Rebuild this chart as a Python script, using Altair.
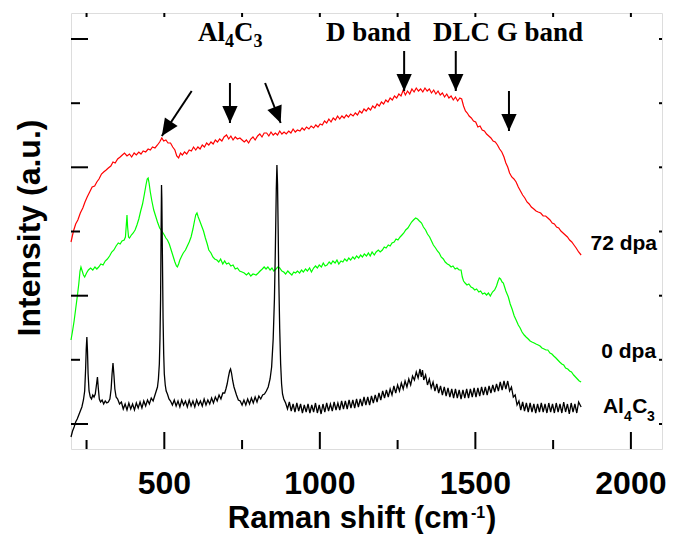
import altair as alt
import pandas as pd

# ---------------- data (Raman shift in cm^-1, intensity in a.u. with offsets) ----------------
red_72dpa = [
    (200,207),(208,218),(215,225),(222,229),(230,236),(238,241),(245,247),(252,252),(260,257),(268,262),
    (276,263),(283,267),(290,270),(298,275),(305,277),(313,279),(320,281),(328,283),(335,287),(342,286),
    (350,290),(358,292),(365,294),(372,296),(380,293),(388,295),(395,292),(403,296),(410,294),(418,297),
    (425,295),(432,298),(440,297),(448,300),(455,299),(462,302),(470,301),(478,304),(485,307),(492,311),
    (498,308),(505,309),(512,306),(520,306),(527,302),(534,299),(540,293),(546,291),(552,296),(558,294),
    (565,297),(572,295),(580,299),(587,298),(594,302),(601,299),(608,302),(615,300),(622,304),(629,302),
    (636,306),(643,304),(650,307),(657,305),(664,309),(671,307),(678,310),(685,308),(692,312),(700,314),
    (707,310),(714,313),(721,309),(728,312),(735,310),(743,311),(750,309),(757,307),(764,309),(771,306),
    (778,310),(785,312),(792,309),(800,313),(807,315),(814,312),(821,316),(829,316),(836,313),(843,317),
    (850,314),(857,316),(864,314),(871,318),(878,315),(885,317),(892,315),(900,318),(907,316),(914,320),
    (921,317),(928,319),(936,318),(943,321),(950,319),(957,322),(965,320),(972,323),(980,321),(987,324),
    (994,322),(1001,325),(1008,324),(1015,328),(1022,326),(1029,330),(1036,327),(1043,331),(1050,329),
    (1057,333),(1064,330),(1071,333),(1078,331),(1085,334),(1092,332),(1099,335),(1107,333),(1114,336),
    (1121,334),(1128,338),(1135,336),(1142,340),(1149,338),(1156,341),(1163,339),(1170,343),(1177,341),
    (1184,345),(1191,343),(1198,347),(1205,345),(1212,349),(1219,347),(1226,351),(1233,349),(1240,353),
    (1247,351),(1254,355),(1261,353),(1268,359),(1275,354),(1282,358),(1289,355),(1296,360),(1303,357),
    (1310,361),(1317,358),(1324,360),(1331,357),(1338,361),(1345,358),(1352,360),(1359,356),(1366,359),
    (1373,355),(1380,358),(1387,354),(1394,356),(1401,352),(1408,355),(1415,351),(1422,353),(1429,349),
    (1436,352),(1443,348),(1450,351),(1456,350),(1462,343),(1468,338),(1474,336),(1480,333),(1487,331),
    (1494,328),(1501,327),(1508,322),(1515,323),(1522,319),(1529,318),(1536,315),(1543,313),(1550,311),
    (1557,308),(1564,307),(1571,304),(1578,300),(1585,297),(1592,292),(1598,286),(1604,282),(1610,276),
    (1617,272),(1624,270),(1631,267),(1638,262),(1645,258),(1652,254),(1659,251),(1666,247),(1673,245),
    (1680,242),(1688,240),(1695,238),(1702,237),(1710,236),(1718,233),(1726,233),(1733,231),(1740,229),
    (1747,226),(1754,225),(1761,222),(1768,221),(1775,218),(1782,216),(1789,214),(1796,212),(1803,209),
    (1810,207),(1817,204),(1824,201),(1832,197),(1840,194),
]

green_0dpa = [
    (200,109),(205,118),(210,128),(215,140),(220,152),(225,165),(229,178),(232,182),(236,178),(240,174),
    (244,172),(250,176),(256,179),(263,181),(270,179),(277,182),(283,180),(289,182),(296,185),(303,184),
    (310,188),(317,190),(324,193),(331,197),(338,199),(345,203),(352,206),(358,205),(364,208),(371,209),
    (375,212),(378,225),(380,234),(382,222),(385,212),(388,211),(394,214),(400,216),(406,219),(412,224),
    (418,230),(424,238),(430,245),(436,255),(441,264),(445,270),(448,271),(451,266),(455,257),(460,248),
    (466,239),(472,233),(478,227),(485,221),(492,218),(500,214),(505,211),(510,209),(516,205),(522,199),
    (528,193),(534,187),(539,183),(542,182),(546,185),(550,189),(556,193),(561,196),(568,199),(574,203),
    (580,207),(586,212),(592,220),(597,228),(601,234),(605,236),(609,232),(614,228),(620,223),(626,218),
    (632,211),(638,205),(643,199),(650,196),(656,192),(662,190),(669,189),(675,187),(681,190),(688,185),
    (694,188),(700,185),(707,186),(714,183),(721,184),(728,180),(735,181),(742,178),(750,177),(757,176),
    (764,174),(771,176),(778,173),(785,175),(795,174),(802,176),(808,178),(815,180),(821,182),(827,180),
    (833,182),(840,179),(846,181),(852,178),(859,180),(865,182),(871,181),(878,178),(884,177),(890,175),
    (897,178),(903,176),(910,174),(916,177),(922,176),(928,178),(935,176),(941,179),(947,177),(954,180),
    (960,178),(967,181),(973,177),(980,181),(986,183),(992,181),(998,184),(1005,182),(1011,186),(1017,183),
    (1023,184),(1030,187),(1036,185),(1042,188),(1049,186),(1055,189),(1061,185),(1068,188),(1074,187),
    (1080,190),(1087,188),(1093,191),(1099,189),(1106,192),(1112,190),(1118,193),(1125,191),(1131,194),
    (1137,192),(1143,195),(1150,193),(1156,196),(1162,193),(1168,197),(1175,194),(1181,197),(1188,199),
    (1194,197),(1201,199),(1207,202),(1213,201),(1220,204),(1226,203),(1232,206),(1239,207),(1245,210),
    (1251,209),(1258,212),(1264,214),(1270,216),(1276,219),(1283,221),(1289,224),(1295,227),(1301,229),
    (1308,231),(1314,230),(1320,228),(1327,226),(1333,222),(1340,219),(1346,215),(1353,212),(1359,208),
    (1365,204),(1372,201),(1378,198),(1384,196),(1390,192),(1397,190),(1403,187),(1410,185),(1416,184),
    (1422,182),(1428,183),(1435,180),(1441,181),(1448,179),(1454,179),(1458,172),(1462,168),(1467,166),
    (1473,164),(1479,165),(1486,162),(1492,161),(1498,159),(1504,160),(1511,157),(1517,158),(1523,155),
    (1530,156),(1536,154),(1542,156),(1548,153),(1555,157),(1562,159),(1568,163),(1573,168),(1577,171),
    (1581,170),(1586,167),(1590,166),(1594,162),(1598,158),(1602,155),(1606,152),(1612,145),(1618,140),
    (1625,133),(1631,129),(1638,124),(1644,121),(1650,117),(1657,114),(1663,112),(1670,110),(1676,108),
    (1682,107),(1689,106),(1695,105),(1702,104),(1708,103),(1714,101),(1721,100),(1727,99),(1733,99),
    (1740,96),(1746,95),(1752,93),(1759,91),(1765,89),(1771,87),(1778,85),(1784,84),(1790,81),(1797,80),
    (1803,78),(1809,77),(1816,74),(1822,72),(1828,70),(1834,68),(1840,67),
]

black_al4c3 = [
    (200,12),(205,18),(210,22),(215,27),(220,30),(225,34),(230,38),(235,42),(240,49),(244,58),(247,80),
    (249,100),(251,112),(253,98),(255,75),(258,58),(262,52),(266,50),(270,54),(274,52),(278,55),(281,62),
    (285,72),(288,60),(291,50),(295,47),(300,49),(305,45),(310,48),(315,46),(320,47),(325,50),(329,60),
    (332,75),(335,86),(338,74),(341,60),(345,52),(350,50),(356,45),(362,47),(368,40),(374,45),(380,39),
    (386,46),(392,40),(398,45),(404,39),(410,46),(416,41),(422,47),(428,41),(434,48),(440,43),(446,49),
    (452,45),(458,51),(464,48),(470,54),(474,58),(478,62),(481,70),(484,85),(486,110),(488,150),(490,230),
    (491,264),(492,250),(494,190),(496,130),(498,95),(500,75),(503,64),(506,58),(510,55),(515,50),(520,48),
    (526,44),(532,49),(538,43),(544,48),(550,42),(556,49),(562,44),(568,48),(574,42),(580,49),(586,43),
    (592,48),(598,42),(604,49),(610,44),(616,48),(622,43),(628,50),(634,44),(640,49),(646,45),(652,51),
    (658,46),(664,52),(670,48),(676,54),(682,50),(688,56),(694,56),(698,60),(702,65),(706,72),(710,78),
    (713,80),(716,76),(720,68),(724,62),(728,58),(732,54),(738,49),(744,48),(750,44),(756,49),(762,44),
    (768,50),(774,45),(780,51),(786,46),(792,52),(798,47),(804,53),(810,50),(816,54),(822,55),(828,58),
    (834,62),(840,70),(845,82),(850,110),(854,150),(857,200),(860,260),(862,284),(864,265),(866,220),
    (868,170),(871,120),(874,85),(877,65),(880,55),(884,50),(890,46),(896,40),(902,47),(908,38),(914,45),
    (920,37),(926,46),(932,38),(938,45),(944,36),(950,44),(956,37),(962,45),(968,36),(974,44),(980,37),
    (986,46),(992,36),(998,44),(1004,35),(1010,45),(1016,37),(1022,46),(1028,38),(1034,45),(1040,38),
    (1046,47),(1052,39),(1058,46),(1064,39),(1070,48),(1076,40),(1082,48),(1088,40),(1094,49),(1100,41),
    (1106,49),(1112,41),(1118,50),(1124,42),(1130,50),(1136,43),(1142,52),(1148,44),(1154,52),(1160,44),
    (1166,53),(1172,46),(1178,54),(1184,47),(1190,56),(1196,49),(1202,58),(1208,51),(1214,59),(1220,52),
    (1226,60),(1232,54),(1238,63),(1244,56),(1250,64),(1256,58),(1262,66),(1268,60),(1274,68),(1280,62),
    (1286,70),(1292,64),(1298,73),(1304,69),(1310,77),(1316,71),(1322,80),(1326,72),(1330,79),(1334,69),
    (1340,74),(1346,64),(1352,70),(1358,61),(1364,67),(1370,58),(1376,65),(1382,56),(1388,63),(1394,54),
    (1400,62),(1406,53),(1412,61),(1418,52),(1424,60),(1430,51),(1436,60),(1442,51),(1448,59),(1454,50),
    (1460,59),(1466,51),(1472,60),(1478,51),(1484,60),(1490,52),(1496,61),(1502,52),(1508,61),(1514,53),
    (1520,62),(1526,54),(1532,62),(1538,54),(1544,63),(1550,56),(1556,64),(1562,57),(1568,65),(1574,58),
    (1580,67),(1586,59),(1592,68),(1598,60),(1604,68),(1610,58),(1616,62),(1622,52),(1628,54),(1634,44),
    (1640,48),(1646,39),(1652,47),(1658,38),(1664,46),(1670,37),(1676,46),(1682,37),(1688,45),(1694,36),
    (1700,45),(1706,37),(1712,46),(1718,37),(1724,45),(1730,36),(1736,46),(1742,37),(1748,45),(1754,36),
    (1760,46),(1766,37),(1772,45),(1778,36),(1784,47),(1790,37),(1796,45),(1802,35),(1808,46),(1814,37),
    (1820,45),(1826,36),(1832,47),(1840,42),
]

x_major = [500, 1000, 1500, 2000]
x_minor = [250, 750, 1250, 1750]
y_major = [25, 153.3, 281.7, 410]
y_minor = [89.2, 217.5, 345.8]

# arrows: tail (x, y) -> tip (x2, y2), head rotation (deg)
arrow_x  = [588, 711, 824, 1271, 1437, 1608]
arrow_y  = [358, 366, 366, 398, 398, 358]
arrow_x2 = [492, 711, 874, 1271, 1437, 1608]
arrow_y2 = [313, 326, 326, 358, 358, 318]
arrow_ang = [33.7, 0, 338.9, 0, 0, 0]

# band labels at top (serif)
top_text = ["Al", "C", "D band", "DLC G band"]
top_x    = [608, 724, 1020, 1364]
top_y    = [408, 408, 408, 408]
top_sub_text = ["4", "3"]
top_sub_x    = [695, 787]
top_sub_y    = [402, 402]

# curve labels at right (sans)
right_text = ["72 dpa", "0 dpa"]
right_x    = [2084, 2081]
right_y    = [199, 91]
al_text = ["Al", "C"]
al_x    = [1910, 2004]
al_y    = [36, 36]
al_sub_text = ["4", "3"]
al_sub_x    = [1978, 2052]
al_sub_y    = [28, 28]

# ---------------- chart ----------------
W, H = 591, 436
xs = alt.Scale(domain=[200, 2100], nice=False, zero=False)
ys = alt.Scale(domain=[0, 436], nice=False, zero=False)
SANS = "Liberation Sans"
SERIF = "Liberation Serif"


def series(pts):
    return pd.DataFrame(pts, columns=["x", "y"])


def line(pts, color, sw=1.2):
    return alt.Chart(series(pts)).mark_line(color=color, strokeWidth=sw).encode(
        x=alt.X("x:Q", scale=xs, axis=None), y=alt.Y("y:Q", scale=ys, axis=None))


red = line(red_72dpa, "#ff0000")
green = line(green_0dpa, "#00ff00")
black = line(black_al4c3, "black", 1.3)


def xticks(vals, y0, y1):
    return alt.Chart(pd.DataFrame({"v": vals})).mark_rule(color="black", strokeWidth=2).encode(
        x=alt.X("v:Q", scale=xs, axis=None), y=alt.value(y0), y2=alt.value(y1))


def yticks(vals, x0, x1):
    return alt.Chart(pd.DataFrame({"v": vals})).mark_rule(color="black", strokeWidth=2).encode(
        y=alt.Y("v:Q", scale=ys, axis=None), x=alt.value(x0), x2=alt.value(x1))


ticks = [
    xticks(x_major, H, H - 17), xticks(x_minor, H, H - 9), xticks(x_major + x_minor, 0, 4),
    yticks(y_major, 0, 17), yticks(y_minor, 0, 9), yticks(y_major + y_minor, W, W - 3),
]

tick_labels = alt.Chart(pd.DataFrame({"v": x_major, "t": [str(v) for v in x_major]})).mark_text(
    font=SANS, fontWeight="bold", fontSize=32, align="center", baseline="alphabetic", color="black"
).encode(x=alt.X("v:Q", scale=xs, axis=None), y=alt.value(H + 45), text="t:N")

arr = pd.DataFrame({"x": arrow_x, "y": arrow_y, "x2": arrow_x2, "y2": arrow_y2, "ang": arrow_ang})
arrow_lines = alt.Chart(arr).mark_rule(color="black", strokeWidth=2).encode(
    x=alt.X("x:Q", scale=xs, axis=None), y=alt.Y("y:Q", scale=ys, axis=None),
    x2="x2:Q", y2="y2:Q")
arrow_heads = alt.Chart(arr).mark_point(shape="M0,0L-0.9,-2L0.9,-2Z", filled=True, color="black",
                                        size=289, opacity=1, strokeWidth=0).encode(
    x=alt.X("x2:Q", scale=xs, axis=None), y=alt.Y("y2:Q", scale=ys, axis=None),
    angle=alt.Angle("ang:Q", scale=None))


def labels(texts, xv, yv, font, size, align):
    df = pd.DataFrame({"t": texts, "x": xv, "y": yv})
    return alt.Chart(df).mark_text(font=font, fontWeight="bold", fontSize=size, align=align,
                                   baseline="alphabetic", color="black").encode(
        x=alt.X("x:Q", scale=xs, axis=None), y=alt.Y("y:Q", scale=ys, axis=None), text="t:N")


texts = [
    labels(top_text, top_x, top_y, SERIF, 27, "left"),
    labels(top_sub_text, top_sub_x, top_sub_y, SERIF, 18, "left"),
    labels(right_text, right_x, right_y, SANS, 21, "right"),
    labels(al_text, al_x, al_y, SANS, 21, "left"),
    labels(al_sub_text, al_sub_x, al_sub_y, SANS, 14, "left"),
]


def fixed_text(t, x, y, size, align, angle=0):
    return alt.Chart(pd.DataFrame({"t": [t]})).mark_text(
        font=SANS, fontWeight="bold", fontSize=size, align=align, baseline="alphabetic",
        color="black", angle=angle).encode(x=alt.value(x), y=alt.value(y), text="t:N")


titles = [
    fixed_text("Raman shift (cm", 398, 515, 31, "right"),
    fixed_text("-1", 400, 505, 16, "left"),
    fixed_text(")", 415, 515, 31, "left"),
    fixed_text("Intensity (a.u.)", -31, 215, 32, "center", angle=270),
]

chart = alt.layer(red, green, black, *ticks, tick_labels, arrow_lines, arrow_heads,
                  *texts, *titles).properties(
    width=W, height=H,
    autosize=alt.AutoSizeParams(type="none"),
    padding={"left": 63, "top": 5, "right": 5, "bottom": 85},
).configure_view(stroke="black", strokeWidth=2.5).configure(background="white")

chart.save("out.html", embed_options={"renderer": "svg", "actions": False})
